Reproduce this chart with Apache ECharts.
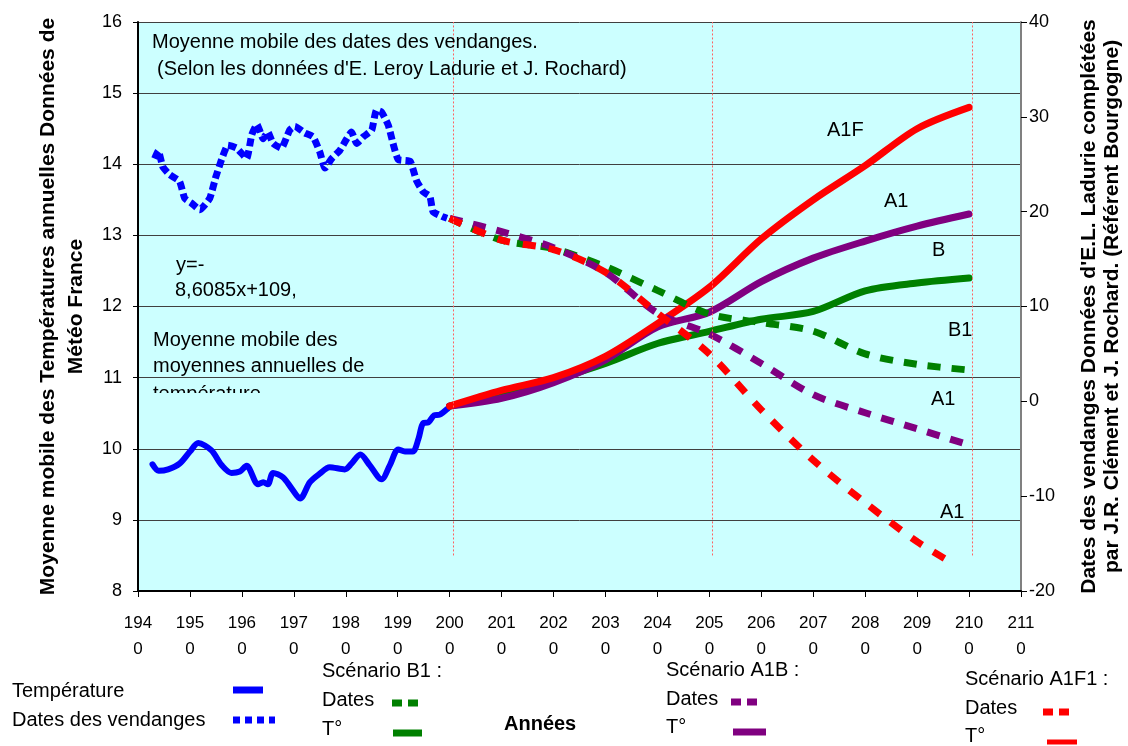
<!DOCTYPE html>
<html>
<head>
<meta charset="utf-8">
<script src="https://cdn.jsdelivr.net/npm/echarts@6/dist/echarts.min.js"></script>
<style>
  html, body { margin: 0; padding: 0; background: #fff; }
  #chart { width: 1128px; height: 746px; }
</style>
</head>
<body>
<div id="chart"></div>
<script>
// moyenne mobile des températures (axe gauche)
const tempYears = [1942.8, 1944, 1945.8, 1948, 1950, 1951.6, 1954.1, 1956.1, 1958, 1959.6, 1960.9, 1963.1, 1964.1, 1965, 1966,
  1967.9, 1969.6, 1971.2, 1973.1, 1975, 1976.9, 1979.8, 1981.1, 1982.8, 1984.6, 1986.9, 1988.5, 1990.1, 1991.4, 1992.9,
  1994, 1994.9, 1995.9, 1997, 1998.1, 1999.7, 2000];
const tempValues = [9.78, 9.69, 9.71, 9.79, 9.96, 10.08, 9.98, 9.77, 9.66, 9.68, 9.76, 9.50, 9.53, 9.50, 9.66,
  9.60, 9.44, 9.30, 9.53, 9.65, 9.74, 9.71, 9.79, 9.92, 9.77, 9.57, 9.77, 9.99, 9.96, 9.96,
  10.14, 10.36, 10.37, 10.47, 10.48, 10.57, 10.6];

// moyenne mobile des dates des vendanges (axe droit)
const harvestYears = [1943.2, 1943.9, 1944.8, 1946.1, 1948, 1949, 1950.3, 1951.9, 1953.8, 1955, 1956.1, 1957.3, 1959, 1960.9,
  1961.9, 1962.9, 1964.1, 1965, 1966, 1967.6, 1969.2, 1970.2, 1972.1, 1973.7, 1975, 1976, 1977.3, 1978.9, 1980.2, 1981.1,
  1982.1, 1983.4, 1985, 1985.9, 1986.9, 1988.2, 1989.1, 1990.1, 1992.4, 1993.6, 1994.9, 1996.2, 1996.8, 1998.5, 1999.5];
const harvestValues = [25.6, 26.4, 24.7, 23.9, 23.2, 21.4, 20.9, 20.2, 21.4, 23.7, 25.5, 27.0, 26.7, 25.6,
  28.1, 29.2, 27.7, 28.4, 27.2, 26.7, 28.6, 29.0, 28.3, 27.9, 26.3, 24.6, 25.6, 26.5, 27.7, 28.4,
  27.2, 27.9, 28.6, 30.7, 30.5, 29.1, 27.2, 25.5, 25.3, 23.3, 22.1, 21.6, 20.0, 19.5, 19.3];

// scénarios
const scenYears = [2000, 2010, 2020, 2030, 2040, 2050, 2060, 2070, 2080, 2090, 2100];
const b1Temp  = [10.6, 10.77, 10.97, 11.2, 11.48, 11.65, 11.82, 11.93, 12.22, 12.33, 12.4];
const a1bTemp = [10.6, 10.71, 10.93, 11.25, 11.71, 11.92, 12.35, 12.68, 12.92, 13.13, 13.3];
const a1fTemp = [10.6, 10.82, 11.0, 11.3, 11.76, 12.27, 12.95, 13.5, 13.98, 14.5, 14.8];
const b1Dates  = [19.3, 17.0, 16.1, 14.2, 11.7, 9.2, 8.3, 7.4, 5.0, 3.9, 3.3];
const a1bDates = [19.3, 17.9, 16.2, 13.6, 9.3, 7.1, 4.0, 0.7, -1.2, -2.9, -4.6];
const a1fDateYears = [2000, 2010, 2020, 2030, 2040, 2050, 2060, 2070, 2080, 2090, 2096];
const a1fDates = [19.3, 17.0, 16.0, 13.6, 9.3, 5.0, -0.9, -6.2, -10.7, -14.8, -16.8];

// lignes verticales pointillées
const markYears = [2000.6, 2050.6, 2100.6];

const pairs = (xs, ys) => xs.map((x, i) => [x, ys[i]]);
const font = '"Liberation Sans", Arial, sans-serif';
const bg = '#CCFFFF';

function solid(name, yIdx, xs, ys, color, width, smooth) {
  return {
    name, type: 'line', yAxisIndex: yIdx, data: pairs(xs, ys),
    showSymbol: false, smooth: smooth, animation: false,
    lineStyle: { color, width, cap: 'round', join: 'round' }
  };
}
function dashed(name, yIdx, xs, ys, color, width, dash, smooth) {
  return {
    name, type: 'line', yAxisIndex: yIdx, data: pairs(xs, ys),
    showSymbol: false, smooth: smooth, animation: false,
    lineStyle: { color, width, type: dash, cap: 'butt' }
  };
}

function txt(text, x, y, bold) {
  return {
    type: 'text', z: 50,
    style: { text, x, y, font: (bold ? 'bold ' : '') + '20px ' + font, fill: '#000', verticalAlign: 'middle' }
  };
}
function seg(x1, x2, y, color, width, dash) {
  return {
    type: 'line', z: 50,
    shape: { x1, y1: y, x2, y2: y },
    style: { stroke: color, lineWidth: width, lineDash: dash || null }
  };
}

const chart = echarts.init(document.getElementById('chart'));

const tempSeries = solid('Température', 0, tempYears, tempValues, '#0000FF', 6, 0.3);
tempSeries.markLine = {
  silent: true, symbol: 'none', animation: false,
  label: { show: false },
  lineStyle: { color: '#FF6060', width: 1, type: [2, 2] },
  data: markYears.map(y => [{ coord: [y, 8.5] }, { coord: [y, 16] }])
};

chart.setOption({
  animation: false,
  grid: {
    left: 138, right: 107, top: 22, bottom: 155,
    outerBoundsMode: 'none', containLabel: false,
    show: true, backgroundColor: bg, borderWidth: 0
  },
  xAxis: {
    type: 'value', min: 1940, max: 2110, interval: 10,
    axisLine: { show: true, onZero: false, lineStyle: { color: '#000', width: 2 } },
    axisTick: { show: true, length: 6, lineStyle: { color: '#000' } },
    splitLine: { show: false },
    axisLabel: {
      margin: 19, color: '#000', fontFamily: font, fontSize: 17, lineHeight: 26,
      formatter: v => String(v).slice(0, 3) + '\n' + String(v).slice(3)
    }
  },
  yAxis: [
    {
      type: 'value', min: 8, max: 16, interval: 1, position: 'left',
      name: 'Moyenne mobile des Températures annuelles Données de\nMétéo France',
      nameLocation: 'middle', nameRotate: 90, nameGap: 48,
      nameTextStyle: { fontFamily: font, fontSize: 21, fontWeight: 'bold', color: '#000', lineHeight: 28 },
      axisLine: { show: true, lineStyle: { color: '#000', width: 2 } },
      axisTick: { show: true, length: 5, lineStyle: { color: '#000' } },
      splitLine: { show: true, lineStyle: { color: '#404040', width: 1 } },
      axisLabel: { margin: 16, color: '#000', fontFamily: font, fontSize: 18 }
    },
    {
      type: 'value', min: -20, max: 40, interval: 10, position: 'right',
      name: "Dates des vendanges Données d'E.L. Ladurie complétées\npar J.R. Clément et J. Rochard. (Référent Bourgogne)",
      nameLocation: 'middle', nameRotate: 90, nameGap: 57,
      nameTextStyle: { fontFamily: font, fontSize: 21, fontWeight: 'bold', color: '#000', lineHeight: 23 },
      axisLine: { show: true, lineStyle: { color: '#808080', width: 2 } },
      axisTick: { show: true, length: 6, lineStyle: { color: '#000' } },
      splitLine: { show: false },
      axisLabel: { margin: 8, color: '#000', fontFamily: font, fontSize: 18 }
    }
  ],
  series: [
    tempSeries,
    dashed('Dates des vendanges', 1, harvestYears, harvestValues, '#0000FF', 7, [8, 4], 0.15),
    solid('B1 T°', 0, scenYears, b1Temp, '#008000', 7, 0.3),
    solid('A1B T°', 0, scenYears, a1bTemp, '#800080', 7, 0.3),
    solid('A1F T°', 0, scenYears, a1fTemp, '#FF0000', 7, 0.3),
    dashed('B1 Dates', 1, scenYears, b1Dates, '#008000', 7, [13, 11], 0.3),
    dashed('A1B Dates', 1, scenYears, a1bDates, '#800080', 7, [13, 11], 0.3),
    dashed('A1F Dates', 1, a1fDateYears, a1fDates, '#FF0000', 7, [13, 13], 0.3)
  ],
  graphic: [
    // annotations dans la zone de tracé
    txt('Moyenne mobile des dates des vendanges.', 152, 42),
    txt("(Selon les données d'E. Leroy Ladurie et J. Rochard)", 157, 69),
    txt('y=-', 176, 265),
    txt('8,6085x+109,', 175, 290),
    txt('Moyenne mobile des', 153, 340),
    txt('moyennes annuelles de', 153, 366),
    txt('température', 153, 394),
    { type: 'rect', z: 60, shape: { x: 148, y: 393, width: 240, height: 14 }, style: { fill: bg } },
    txt('A1F', 827, 130),
    txt('A1', 884, 201),
    txt('B', 932, 250),
    txt('B1', 948, 330),
    txt('A1', 931, 399),
    txt('A1', 940, 512),

    // légende en bas
    txt('Température', 12, 691),
    seg(233, 263, 690, '#0000FF', 7),
    txt('Dates des vendanges', 12, 720),
    seg(233, 275, 720, '#0000FF', 7, [7, 5]),
    txt('Scénario B1 :', 322, 671),
    txt('Dates', 322, 700),
    seg(392, 422, 703, '#008000', 7, [10, 6]),
    txt('T°', 322, 729),
    seg(393, 422, 733, '#008000', 7),
    txt('Années', 504, 724, true),
    txt('Scénario A1B :', 666, 670),
    txt('Dates', 666, 699),
    seg(731, 760, 702, '#800080', 7, [10, 6]),
    txt('T°', 666, 727),
    seg(733, 766, 732, '#800080', 7),
    txt('Scénario A1F1 :', 965, 679),
    txt('Dates', 965, 708),
    seg(1043, 1072, 712, '#FF0000', 7, [10, 6]),
    txt('T°', 965, 736),
    seg(1047, 1077, 742, '#FF0000', 5)
  ]
});
</script>
</body>
</html>
